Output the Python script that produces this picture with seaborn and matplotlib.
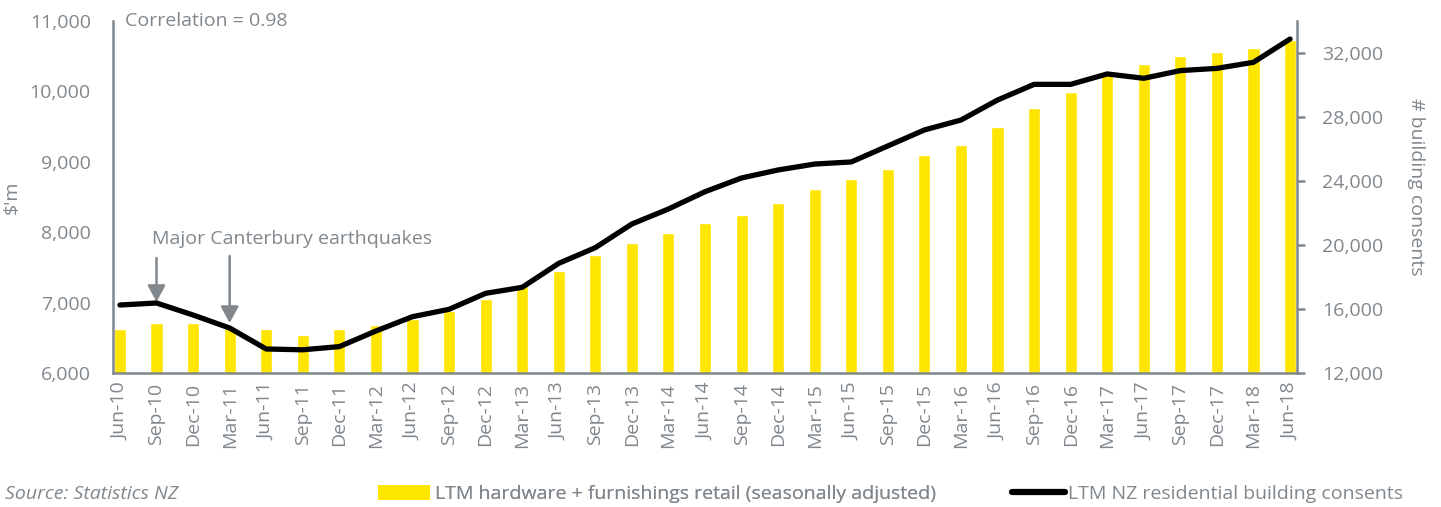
import numpy as np
import pandas as pd
import matplotlib
matplotlib.use("Agg")
import matplotlib.pyplot as plt
from matplotlib.patches import Patch
from matplotlib.lines import Line2D
import seaborn as sns

# Quarterly periods
quarters = ["Jun-10", "Sep-10", "Dec-10", "Mar-11", "Jun-11", "Sep-11", "Dec-11",
            "Mar-12", "Jun-12", "Sep-12", "Dec-12", "Mar-13", "Jun-13", "Sep-13",
            "Dec-13", "Mar-14", "Jun-14", "Sep-14", "Dec-14", "Mar-15", "Jun-15",
            "Sep-15", "Dec-15", "Mar-16", "Jun-16", "Sep-16", "Dec-16", "Mar-17",
            "Jun-17", "Sep-17", "Dec-17", "Mar-18", "Jun-18"]

# LTM hardware + furnishings retail, $m (seasonally adjusted)
retail_sales = [6625, 6710, 6710, 6650, 6625, 6540, 6625, 6680, 6770, 6880,
                7050, 7235, 7450, 7680, 7850, 7990, 8130, 8245, 8415, 8614,
                8756, 8900, 9097, 9240, 9494, 9764, 9991, 10230, 10389, 10503,
                10560, 10616, 10730]

# LTM NZ residential building consents (count)
consents = [16250, 16375, 15625, 14812, 13500, 13450, 13650, 14625, 15520, 15980,
            16980, 17354, 18854, 19833, 21312, 22250, 23330, 24190, 24690, 25060,
            25190, 26190, 27190, 27810, 29060, 30040, 30040, 30690, 30420, 30900,
            31040, 31420, 32875]

left_ticks = [6000, 7000, 8000, 9000, 10000, 11000]
right_ticks = [12000, 16000, 20000, 24000, 28000, 32000]

bar_label = "LTM hardware + furnishings retail (seasonally adjusted)"
line_label = "LTM NZ residential building consents"

GREY = "#80878d"
YELLOW = "#FFE600"
FS = 14

sns.set_theme(style="white")
plt.rcParams["font.family"] = ["Open Sans", "DejaVu Sans"]
plt.rcParams["text.color"] = GREY
plt.rcParams["axes.labelcolor"] = GREY

df = pd.DataFrame({"quarter": quarters, "retail": retail_sales,
                   "consents": consents, "idx": np.arange(len(quarters))})

fig = plt.figure(figsize=(14.41, 5.07), dpi=100)
ax = fig.add_axes([113 / 1441, 1 - 373 / 507, (1297 - 113) / 1441, (373 - 21) / 507])

sns.barplot(data=df, x="quarter", y="retail", order=quarters, color=YELLOW,
            saturation=1, width=0.33, ax=ax)
ax.set_ylim(6000, 11000)
ax.set_yticks(left_ticks)
ax.set_yticklabels([f"{v:,}" for v in left_ticks])
ax.set_xlim(-0.19, len(quarters) - 1 + 0.19)
ax.set_xlabel("")
ax.set_ylabel("$'m", fontsize=FS)
ax.yaxis.set_label_coords(-0.078, 0.5)

ax2 = ax.twinx()
sns.lineplot(data=df, x="idx", y="consents", color="black", linewidth=3.8,
             ax=ax2, solid_capstyle="round", solid_joinstyle="round")
ax2.set_ylim(12000, 34000)
ax2.set_yticks(right_ticks)
ax2.set_yticklabels([f"{v:,}" for v in right_ticks])
ax2.set_xlim(-0.19, len(quarters) - 1 + 0.19)
ax2.set_xlabel("")
ax2.set_ylabel("# building consents", fontsize=FS, rotation=270, va="bottom")
ax2.yaxis.set_label_coords(1.093, 0.53)

for a in (ax, ax2):
    a.spines["top"].set_visible(False)
    for side in ("left", "right", "bottom"):
        a.spines[side].set_color(GREY)
        a.spines[side].set_linewidth(1.8)
ax.spines["right"].set_visible(False)
ax2.spines["left"].set_visible(False)
ax2.spines["bottom"].set_visible(False)

ax.tick_params(axis="y", length=0, pad=16, labelsize=FS, labelcolor=GREY)
ax.tick_params(axis="x", length=0, pad=7, labelsize=FS, labelcolor=GREY,
               labelrotation=90)
ax2.tick_params(axis="y", length=6, width=1.8, color=GREY, direction="out",
                pad=12, labelsize=FS, labelcolor=GREY)

# annotations
ax.text(0.0101, 1.0, "Correlation = 0.98", transform=ax.transAxes,
        ha="left", va="center", fontsize=FS, color=GREY)
ax.text(0.87, 7903, "Major Canterbury earthquakes", ha="left", va="center",
        fontsize=FS, color=GREY)
arrow_props = dict(arrowstyle="-|>,head_length=0.5,head_width=0.27",
                   mutation_scale=20, color=GREY, lw=1.8,
                   shrinkA=0, shrinkB=0)
ax.annotate("", xy=(1, 7009), xytext=(1, 7634), arrowprops=arrow_props)
ax.annotate("", xy=(3, 6710), xytext=(3, 7662), arrowprops=arrow_props)

# footer: source and legend
fig.text(5 / 1441, 1 - 494 / 507, "Source: Statistics NZ", ha="left",
         va="center", fontsize=FS, style="italic", color=GREY)
leg1 = fig.legend(handles=[Patch(facecolor=YELLOW, edgecolor="none")],
                  labels=[bar_label], loc="center left",
                  bbox_to_anchor=(378 / 1441, 1 - 494 / 507), frameon=False,
                  fontsize=FS, handlelength=2.7, handleheight=0.8,
                  handletextpad=0.25, borderpad=0, borderaxespad=0,
                  labelcolor=GREY)
leg2 = fig.legend(handles=[Line2D([], [], color="black", lw=4.5,
                                  solid_capstyle="round")],
                  labels=[line_label], loc="center left",
                  bbox_to_anchor=(1012 / 1441, 1 - 494 / 507), frameon=False,
                  fontsize=FS, handlelength=2.7, handletextpad=0.2,
                  borderpad=0, borderaxespad=0, labelcolor=GREY)
fig.add_artist(leg1)

fig.savefig("out.png", dpi=100)
